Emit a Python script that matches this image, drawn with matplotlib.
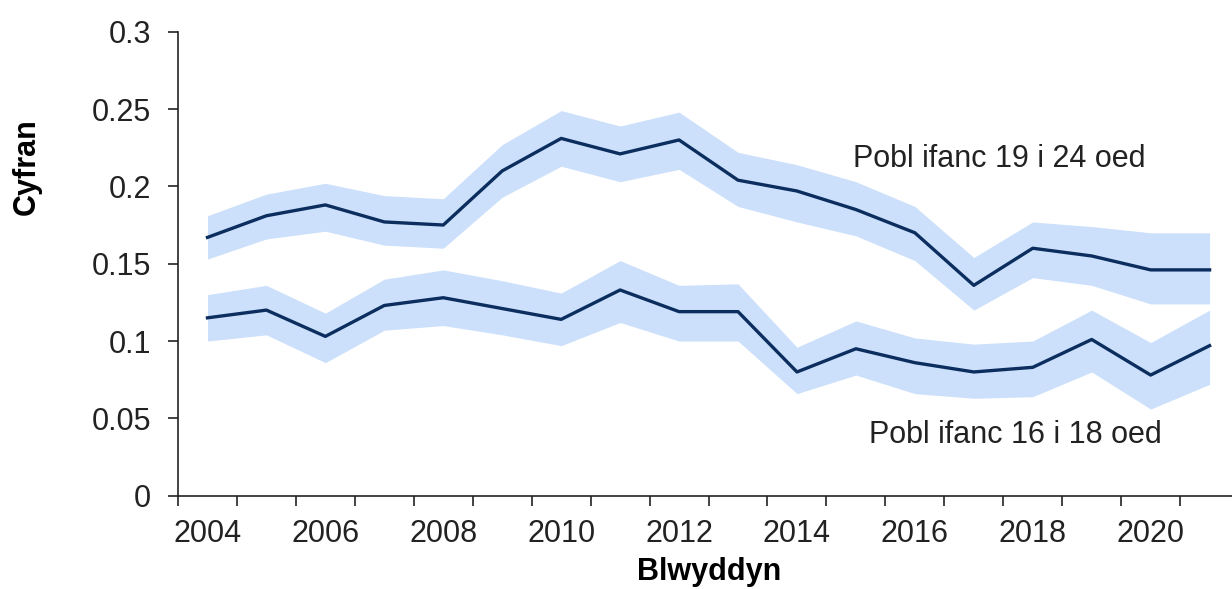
import matplotlib
matplotlib.use("Agg")
import matplotlib.pyplot as plt
from matplotlib.ticker import FixedLocator, FuncFormatter

plt.rcParams['font.family'] = ['Liberation Sans', 'DejaVu Sans']

# Blynyddoedd
years = list(range(2004, 2022))

# Pobl ifanc 19 i 24 oed
older = [0.167, 0.181, 0.188, 0.177, 0.175, 0.210, 0.231, 0.221, 0.230, 0.204,
         0.197, 0.185, 0.170, 0.136, 0.160, 0.155, 0.146, 0.146]
older_hi = [0.181, 0.195, 0.202, 0.194, 0.192, 0.227, 0.249, 0.239, 0.248, 0.222,
            0.214, 0.203, 0.187, 0.154, 0.177, 0.174, 0.170, 0.170]
older_lo = [0.153, 0.166, 0.171, 0.162, 0.160, 0.193, 0.213, 0.203, 0.211, 0.187,
            0.177, 0.168, 0.152, 0.120, 0.141, 0.136, 0.124, 0.124]

# Pobl ifanc 16 i 18 oed
younger = [0.115, 0.120, 0.103, 0.123, 0.128, 0.121, 0.114, 0.133, 0.119, 0.119,
           0.080, 0.095, 0.086, 0.080, 0.083, 0.101, 0.078, 0.097]
younger_hi = [0.130, 0.136, 0.118, 0.140, 0.146, 0.139, 0.131, 0.152, 0.136, 0.137,
              0.096, 0.113, 0.102, 0.098, 0.100, 0.120, 0.099, 0.120]
younger_lo = [0.100, 0.104, 0.086, 0.107, 0.110, 0.104, 0.097, 0.112, 0.100, 0.100,
              0.066, 0.078, 0.066, 0.063, 0.064, 0.080, 0.056, 0.072]

yticks = [0, 0.05, 0.1, 0.15, 0.2, 0.25, 0.3]

line_col = '#0b2e5e'
band_col = '#cce0fb'

fig = plt.figure(figsize=(12.32, 5.89), dpi=100)
ax = fig.add_axes([178 / 1232, 1 - 495.7 / 589, (1232 - 178) / 1232, (495.7 - 31.7) / 589])

ax.fill_between(years, older_lo, older_hi, color=band_col, linewidth=0)
ax.fill_between(years, younger_lo, younger_hi, color=band_col, linewidth=0)
ax.plot(years, older, color=line_col, linewidth=2.4)
ax.plot(years, younger, color=line_col, linewidth=2.4)

ax.set_xlim(2003.5, 2021.38)
ax.set_ylim(0, 0.3)

ax.set_xticks(years[::2])
ax.set_xticklabels([str(y) for y in years[::2]])
ax.xaxis.set_minor_locator(FixedLocator([y - 0.5 for y in years]))
ax.tick_params(axis='x', which='major', length=0, pad=17, labelsize=22, labelcolor='#222222')
ax.tick_params(axis='x', which='minor', length=7.2, width=1.2, color='#222222')

ax.set_yticks(yticks)
ax.yaxis.set_major_formatter(FuncFormatter(lambda v, p: '{:g}'.format(v)))
ax.tick_params(axis='y', length=7.2, width=1.2, pad=12, labelsize=22, color='#222222',
               labelcolor='#222222')

for s in ['top', 'right']:
    ax.spines[s].set_visible(False)
for s in ['left', 'bottom']:
    ax.spines[s].set_linewidth(1.2)
    ax.spines[s].set_color('#222222')

ax.text(2017.43, 0.2125, 'Pobl ifanc 19 i 24 oed', fontsize=22, ha='center', va='baseline',
        color='#222222')
ax.text(2017.7, 0.0341, 'Pobl ifanc 16 i 18 oed', fontsize=22, ha='center', va='baseline',
        color='#222222')

fig.text(27 / 1232, 1 - 167 / 589, 'Cyfran', rotation=90, ha='center', va='center',
         fontsize=22, fontweight='bold')
# a bit higher than the reference so the descenders stay inside the picture
fig.text(709 / 1232, 1 - 580 / 589, 'Blwyddyn', ha='center', va='baseline',
         fontsize=22, fontweight='bold')

fig.savefig('out.png', dpi=100)
